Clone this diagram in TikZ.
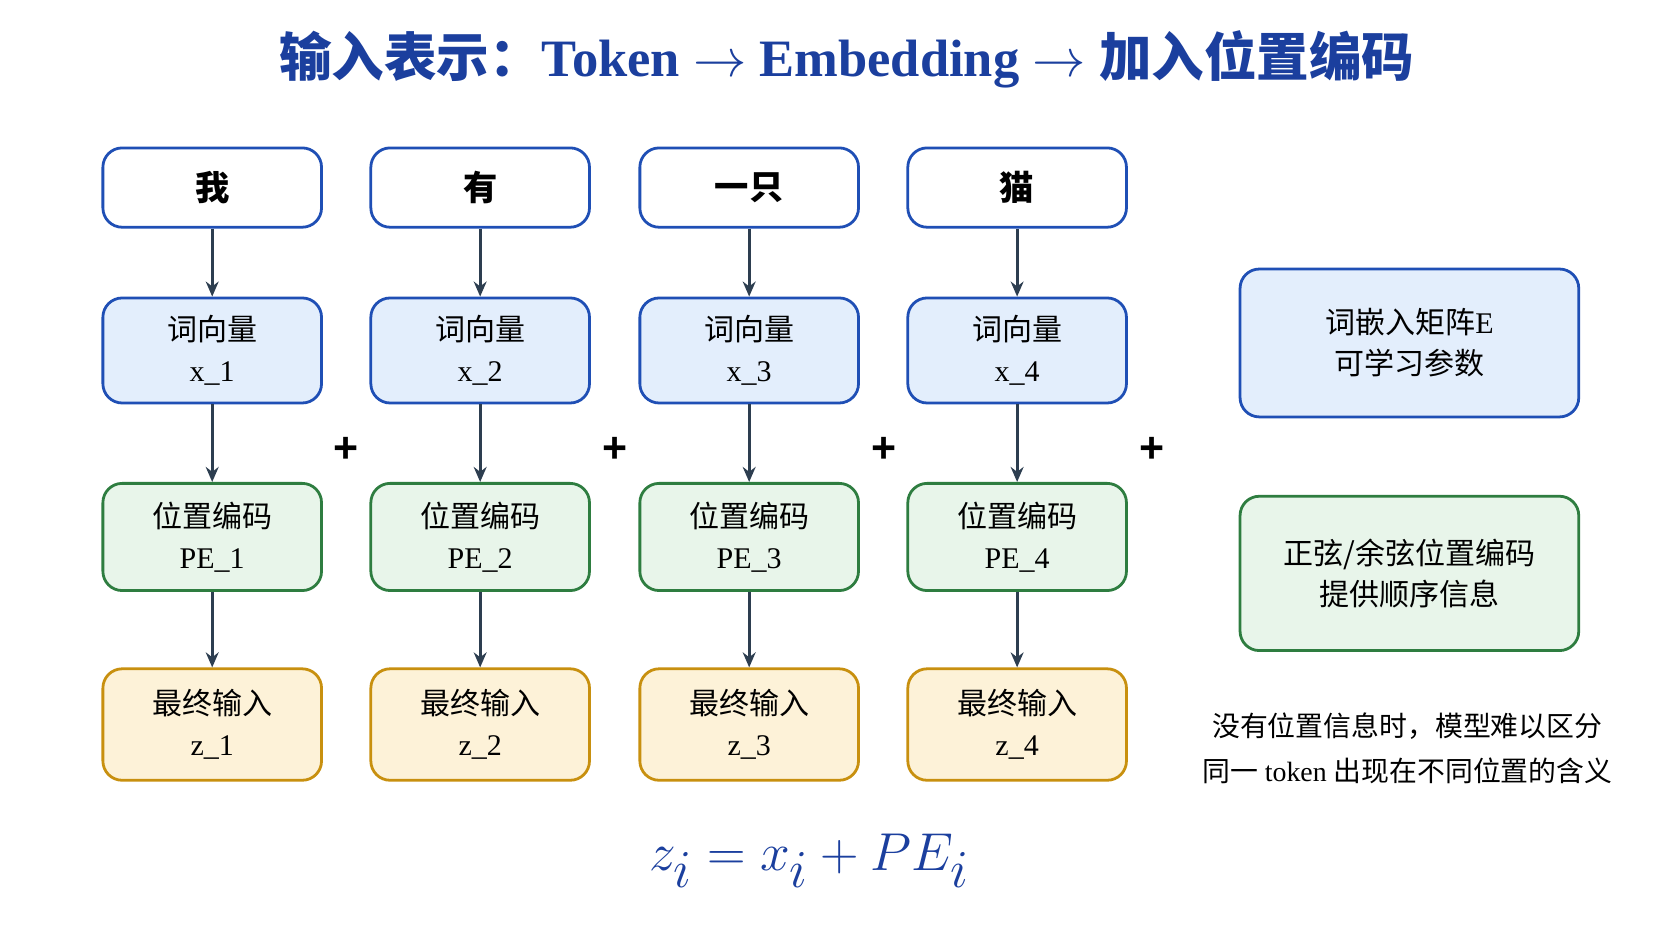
\documentclass[tikz,border=0pt]{standalone}
\usepackage{fontspec}
\setmainfont{Liberation Serif}
\newfontfamily\cjk{Noto Sans CJK SC}
\newfontfamily\plusfont{Liberation Sans}
\usetikzlibrary{arrows.meta}
\definecolor{tb}{HTML}{1B3F9E}
\definecolor{bb}{HTML}{1F4FB5}
\definecolor{bf}{HTML}{E3EEFC}
\definecolor{gb}{HTML}{2E7D40}
\definecolor{gf}{HTML}{E8F5EA}
\definecolor{ob}{HTML}{C8900F}
\definecolor{of}{HTML}{FDF2D8}
\definecolor{ar}{HTML}{2D3E50}
\begin{document}
\begin{tikzpicture}[x=0.5pt,y=-0.5pt,
 box/.style={draw, line width=1.3pt, rounded corners=9pt, minimum width=102pt, align=center, font=\fontsize{14}{19}\selectfont, text=black},
 tok/.style={box, draw=bb, fill=white, minimum height=37pt, font=\cjk\bfseries\fontsize{16}{19}\selectfont},
 emb/.style={box, draw=bb, fill=bf, minimum height=49pt},
 pe/.style={box, draw=gb, fill=gf, minimum height=50pt},
 fin/.style={box, draw=ob, fill=of, minimum height=52pt},
 arr/.style={draw=ar, line width=1.3pt, -{Stealth[length=7pt,width=6pt]}},
 pl/.style={font=\plusfont\bfseries\fontsize{20}{20}\selectfont, text=black}]
\fill[white] (0,0) rectangle (1560,878);
\useasboundingbox (0,0) rectangle (1560,878);
\node[font=\bfseries\fontsize{24.5}{24}\selectfont, text=tb] (title) at (790,55) {{\cjk 输入表示：}Token $\rightarrow$ Embedding $\rightarrow$ {\cjk 加入位置编码}};
\foreach \x/\i/\t in {198/1/我, 448/2/有, 699/3/一只, 949/4/猫}{
  \node[tok] (t\i) at (\x,175) {\t};
  \node[emb] (e\i) at (\x,327) {{\cjk 词向量}\\x\_\i};
  \node[pe] (p\i) at (\x,501) {{\cjk 位置编码}\\PE\_\i};
  \node[fin] (f\i) at (\x,676) {{\cjk 最终输入}\\z\_\i};
  \draw[arr] (t\i) -- (e\i);
  \draw[arr] (e\i) -- (p\i);
  \draw[arr] (p\i) -- (f\i);
}
\foreach \x/\i in {323/1,574/2,825/3,1075/4}{\node[pl] (plus\i) at (\x,420) {+};}
\node[box, draw=bb, fill=bf, minimum width=158pt, minimum height=69pt] (emat) at (1315,320) {{\cjk 词嵌入矩阵}E\\{\cjk 可学习参数}};
\node[box, draw=gb, fill=gf, minimum width=158pt, minimum height=72pt] (sin) at (1315,535) {{\cjk 正弦/余弦位置编码}\\{\cjk 提供顺序信息}};
\node[align=center, font=\fontsize{13}{21}\selectfont] (note) at (1313,698) {{\cjk 没有位置信息时，模型难以区分}\\{\cjk 同一} token {\cjk 出现在不同位置的含义}};
\node[text=tb, font=\fontsize{33}{33}\selectfont] (formula) at (755,803) {$z_i = x_i + PE_i$};
\end{tikzpicture}
\end{document}
